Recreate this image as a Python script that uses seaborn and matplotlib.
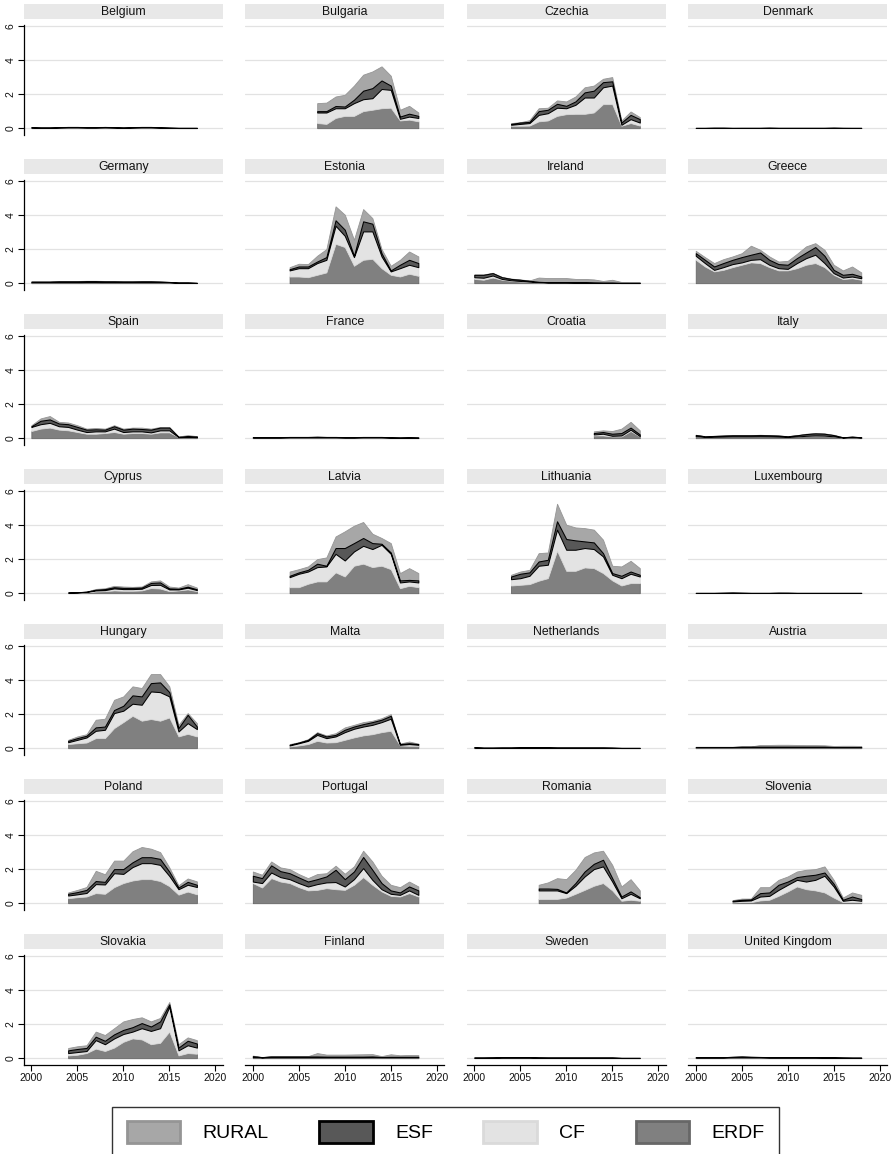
import numpy as np
import pandas as pd
import matplotlib
matplotlib.use("Agg")
import matplotlib.pyplot as plt
from matplotlib.patches import Patch, Rectangle
import seaborn as sns

# EU funds by country and year, four stacked layers
countries = ["Belgium", "Bulgaria", "Czechia", "Denmark",
             "Germany", "Estonia", "Ireland", "Greece",
             "Spain", "France", "Croatia", "Italy",
             "Cyprus", "Latvia", "Lithuania", "Luxembourg",
             "Hungary", "Malta", "Netherlands", "Austria",
             "Poland", "Portugal", "Romania", "Slovenia",
             "Slovakia", "Finland", "Sweden", "United Kingdom"]

start_year = {"Belgium": 2000, "Bulgaria": 2007, "Czechia": 2004, "Denmark": 2000,
              "Germany": 2000, "Estonia": 2004, "Ireland": 2000, "Greece": 2000,
              "Spain": 2000, "France": 2000, "Croatia": 2013, "Italy": 2000,
              "Cyprus": 2004, "Latvia": 2004, "Lithuania": 2004, "Luxembourg": 2000,
              "Hungary": 2004, "Malta": 2004, "Netherlands": 2000, "Austria": 2000,
              "Poland": 2004, "Portugal": 2000, "Romania": 2007, "Slovenia": 2004,
              "Slovakia": 2004, "Finland": 2000, "Sweden": 2000, "United Kingdom": 2000}

Z19 = [0, 0, 0, 0, 0, 0, 0, 0, 0, 0, 0, 0, 0, 0, 0, 0, 0, 0, 0]

erdf = {
    "Belgium": [0.03, 0.02, 0.02, 0.03, 0.04, 0.04, 0.03, 0.03, 0.04, 0.03, 0.02, 0.03, 0.04, 0.04, 0.03, 0.02, 0.01, 0.01, 0.01],
    "Bulgaria": [0.3, 0.25, 0.6, 0.72, 0.72, 1.0, 1.08, 1.17, 1.2, 0.45, 0.5, 0.4],
    "Czechia": [0.14, 0.14, 0.15, 0.4, 0.45, 0.72, 0.82, 0.84, 0.84, 0.92, 1.41, 1.41, 0.14, 0.3, 0.15],
    "Denmark": [0.01, 0.01, 0.01, 0.01, 0.01, 0.01, 0.01, 0.01, 0.01, 0.01, 0.01, 0.01, 0.01, 0.01, 0.01, 0.01, 0.01, 0.01, 0.01],
    "Germany": [0.05, 0.05, 0.05, 0.06, 0.06, 0.06, 0.07, 0.07, 0.06, 0.06, 0.05, 0.05, 0.06, 0.06, 0.05, 0.04, 0.02, 0.02, 0.01],
    "Estonia": [0.39, 0.39, 0.35, 0.49, 0.63, 2.31, 2.12, 1.02, 1.37, 1.43, 0.88, 0.49, 0.39, 0.55, 0.43],
    "Ireland": [0.25, 0.2, 0.33, 0.2, 0.14, 0.1, 0.07, 0.04, 0.03, 0.03, 0.03, 0.03, 0.03, 0.02, 0.02, 0.02, 0.01, 0.01, 0.01],
    "Greece": [1.37, 0.98, 0.69, 0.78, 0.94, 1.08, 1.22, 1.18, 0.94, 0.75, 0.75, 0.88, 1.08, 1.18, 0.94, 0.49, 0.24, 0.29, 0.2],
    "Spain": [0.42, 0.56, 0.62, 0.5, 0.46, 0.36, 0.26, 0.26, 0.3, 0.36, 0.26, 0.3, 0.3, 0.26, 0.34, 0.34, 0.06, 0.06, 0.06],
    "France": [0.03, 0.03, 0.03, 0.03, 0.04, 0.04, 0.04, 0.04, 0.04, 0.04, 0.03, 0.03, 0.04, 0.04, 0.04, 0.03, 0.02, 0.03, 0.02],
    "Croatia": [0.16, 0.16, 0.1, 0.1, 0.42, 0.1],
    "Italy": [0.12, 0.07, 0.08, 0.09, 0.1, 0.1, 0.1, 0.11, 0.1, 0.09, 0.07, 0.1, 0.14, 0.16, 0.15, 0.11, 0.03, 0.05, 0.03],
    "Cyprus": [0.02, 0.03, 0.05, 0.1, 0.12, 0.16, 0.14, 0.14, 0.16, 0.3, 0.27, 0.12, 0.16, 0.22, 0.12],
    "Latvia": [0.35, 0.35, 0.55, 0.69, 0.69, 1.22, 0.98, 1.61, 1.73, 1.53, 1.61, 1.41, 0.29, 0.43, 0.35],
    "Lithuania": [0.45, 0.49, 0.53, 0.73, 0.88, 2.49, 1.31, 1.31, 1.51, 1.47, 1.18, 0.75, 0.45, 0.59, 0.59],
    "Luxembourg": [0.01, 0.01, 0.01, 0.01, 0.01, 0.01, 0.01, 0.01, 0.01, 0.01, 0.01, 0.01, 0.01, 0.01, 0.01, 0.01, 0.01, 0.01, 0.01],
    "Hungary": [0.24, 0.29, 0.33, 0.59, 0.59, 1.18, 1.53, 1.9, 1.61, 1.71, 1.61, 1.8, 0.69, 0.84, 0.69],
    "Malta": [0.1, 0.16, 0.24, 0.43, 0.33, 0.35, 0.49, 0.63, 0.75, 0.82, 0.94, 1.02, 0.16, 0.14, 0.14],
    "Netherlands": [0.03, 0.02, 0.02, 0.02, 0.02, 0.03, 0.03, 0.03, 0.03, 0.02, 0.02, 0.02, 0.02, 0.02, 0.02, 0.02, 0.01, 0.01, 0.01],
    "Austria": [0.04, 0.04, 0.04, 0.04, 0.04, 0.05, 0.05, 0.05, 0.05, 0.05, 0.05, 0.05, 0.05, 0.05, 0.05, 0.04, 0.04, 0.04, 0.04],
    "Poland": [0.29, 0.35, 0.39, 0.59, 0.55, 0.94, 1.18, 1.33, 1.41, 1.41, 1.3, 1.0, 0.5, 0.68, 0.52],
    "Portugal": [1.18, 0.92, 1.47, 1.27, 1.18, 0.94, 0.75, 0.78, 0.88, 0.82, 0.78, 1.08, 1.53, 1.08, 0.69, 0.43, 0.39, 0.59, 0.39],
    "Romania": [0.24, 0.24, 0.25, 0.33, 0.55, 0.78, 1.02, 1.18, 0.75, 0.14, 0.2, 0.14],
    "Slovenia": [0.04, 0.06, 0.06, 0.16, 0.2, 0.43, 0.69, 0.98, 0.82, 0.75, 0.63, 0.33, 0.06, 0.08, 0.06],
    "Slovakia": [0.16, 0.2, 0.3, 0.56, 0.42, 0.62, 0.96, 1.16, 1.1, 0.82, 0.9, 1.56, 0.16, 0.3, 0.26],
    "Finland": [0.06, 0.03, 0.04, 0.04, 0.04, 0.04, 0.04, 0.04, 0.04, 0.04, 0.04, 0.04, 0.04, 0.05, 0.04, 0.04, 0.04, 0.04, 0.04],
    "Sweden": [0.02, 0.02, 0.02, 0.03, 0.03, 0.03, 0.03, 0.02, 0.02, 0.02, 0.02, 0.02, 0.02, 0.02, 0.02, 0.02, 0.01, 0.01, 0.01],
    "United Kingdom": [0.03, 0.03, 0.03, 0.03, 0.04, 0.05, 0.04, 0.04, 0.03, 0.03, 0.03, 0.03, 0.03, 0.03, 0.03, 0.03, 0.02, 0.02, 0.02],
}

cf = {
    "Belgium": Z19,
    "Bulgaria": [0.62, 0.67, 0.57, 0.45, 0.75, 0.7, 0.68, 1.13, 1.05, 0.1, 0.18, 0.2],
    "Czechia": [0.06, 0.11, 0.15, 0.38, 0.43, 0.48, 0.35, 0.53, 0.96, 0.88, 0.99, 1.09, 0.06, 0.23, 0.18],
    "Denmark": Z19,
    "Germany": Z19,
    "Estonia": [0.36, 0.49, 0.53, 0.69, 0.74, 1.06, 0.66, 0.51, 1.67, 1.61, 0.69, 0.2, 0.49, 0.53, 0.51],
    "Ireland": [0.1, 0.12, 0.12, 0.05, 0.03, 0.03, 0.02, 0.01, 0, 0, 0, 0, 0, 0, 0, 0, 0, 0, 0],
    "Greece": [0.24, 0.2, 0.09, 0.16, 0.18, 0.14, 0.15, 0.23, 0.14, 0.13, 0.09, 0.3, 0.39, 0.49, 0.24, 0.1, 0.09, 0.1, 0.09],
    "Spain": [0.24, 0.26, 0.28, 0.2, 0.2, 0.14, 0.1, 0.14, 0.1, 0.2, 0.1, 0.1, 0.1, 0.08, 0.12, 0.12, 0.0, 0.02, 0.0],
    "France": Z19,
    "Croatia": [0.06, 0.1, 0.04, 0.06, 0.08, 0.02],
    "Italy": Z19,
    "Cyprus": [0.01, 0.01, 0.02, 0.06, 0.06, 0.12, 0.1, 0.1, 0.1, 0.18, 0.22, 0.1, 0.06, 0.1, 0.06],
    "Latvia": [0.59, 0.79, 0.72, 0.84, 0.88, 1.09, 0.94, 0.84, 1.05, 1.06, 1.23, 0.9, 0.34, 0.26, 0.28],
    "Lithuania": [0.37, 0.39, 0.49, 0.88, 0.79, 1.24, 1.24, 1.24, 1.14, 1.12, 0.98, 0.33, 0.43, 0.55, 0.39],
    "Luxembourg": Z19,
    "Hungary": [0.11, 0.2, 0.3, 0.43, 0.49, 0.88, 0.67, 0.71, 0.94, 1.62, 1.68, 1.24, 0.29, 0.63, 0.43],
    "Malta": [0.06, 0.13, 0.19, 0.35, 0.26, 0.34, 0.45, 0.51, 0.52, 0.55, 0.59, 0.71, 0.04, 0.1, 0.06],
    "Netherlands": Z19,
    "Austria": Z19,
    "Poland": [0.16, 0.17, 0.21, 0.53, 0.55, 0.82, 0.54, 0.79, 0.94, 0.94, 0.95, 0.6, 0.32, 0.4, 0.43],
    "Portugal": [0.09, 0.26, 0.33, 0.26, 0.23, 0.24, 0.23, 0.34, 0.34, 0.42, 0.2, 0.33, 0.53, 0.29, 0.13, 0.12, 0.1, 0.16, 0.1],
    "Romania": [0.51, 0.51, 0.5, 0.26, 0.47, 0.79, 0.98, 0.98, 0.52, 0.15, 0.35, 0.15],
    "Slovenia": [0.06, 0.08, 0.1, 0.23, 0.23, 0.35, 0.39, 0.39, 0.45, 0.62, 0.98, 0.65, 0.08, 0.12, 0.08],
    "Slovakia": [0.14, 0.16, 0.12, 0.5, 0.4, 0.54, 0.46, 0.4, 0.66, 0.78, 0.86, 1.46, 0.3, 0.46, 0.36],
    "Finland": Z19,
    "Sweden": Z19,
    "United Kingdom": Z19,
}

esf = {
    "Belgium": [0.03, 0.02, 0.02, 0.03, 0.03, 0.03, 0.03, 0.03, 0.03, 0.03, 0.02, 0.03, 0.03, 0.03, 0.02, 0.01, 0.01, 0.01, 0.01],
    "Bulgaria": [0.08, 0.08, 0.13, 0.1, 0.2, 0.5, 0.59, 0.5, 0.25, 0.13, 0.17, 0.12],
    "Czechia": [0.05, 0.08, 0.07, 0.22, 0.2, 0.23, 0.14, 0.2, 0.3, 0.4, 0.3, 0.25, 0.13, 0.25, 0.2],
    "Denmark": [0.01, 0.01, 0.02, 0.02, 0.01, 0.01, 0.01, 0.01, 0.02, 0.01, 0.01, 0.01, 0.01, 0.01, 0.01, 0.02, 0.01, 0.01, 0.01],
    "Germany": [0.04, 0.04, 0.04, 0.05, 0.05, 0.05, 0.05, 0.05, 0.05, 0.05, 0.05, 0.05, 0.05, 0.05, 0.04, 0.03, 0.02, 0.02, 0.01],
    "Estonia": [0.07, 0.1, 0.1, 0.09, 0.16, 0.32, 0.36, 0.08, 0.59, 0.45, 0.19, 0.06, 0.2, 0.29, 0.24],
    "Ireland": [0.14, 0.17, 0.14, 0.1, 0.08, 0.07, 0.05, 0.03, 0.03, 0.03, 0.03, 0.02, 0.02, 0.02, 0.01, 0.01, 0.01, 0.01, 0.01],
    "Greece": [0.15, 0.19, 0.2, 0.24, 0.25, 0.31, 0.3, 0.39, 0.29, 0.24, 0.24, 0.29, 0.33, 0.45, 0.43, 0.19, 0.16, 0.16, 0.1],
    "Spain": [0.04, 0.2, 0.2, 0.16, 0.16, 0.16, 0.14, 0.12, 0.1, 0.14, 0.14, 0.16, 0.14, 0.16, 0.16, 0.16, 0.02, 0.04, 0.04],
    "France": [0.03, 0.03, 0.03, 0.03, 0.03, 0.03, 0.03, 0.04, 0.03, 0.03, 0.03, 0.03, 0.03, 0.03, 0.03, 0.02, 0.02, 0.02, 0.02],
    "Croatia": [0.08, 0.1, 0.12, 0.14, 0.12, 0.1],
    "Italy": [0.07, 0.04, 0.05, 0.06, 0.07, 0.07, 0.07, 0.07, 0.07, 0.06, 0.04, 0.07, 0.1, 0.12, 0.11, 0.07, 0.02, 0.04, 0.02],
    "Cyprus": [0.01, 0.01, 0.02, 0.04, 0.06, 0.07, 0.07, 0.07, 0.07, 0.12, 0.14, 0.06, 0.04, 0.06, 0.05],
    "Latvia": [0.08, 0.08, 0.1, 0.2, 0.04, 0.34, 0.73, 0.49, 0.46, 0.35, 0.06, 0.08, 0.12, 0.09, 0.12],
    "Lithuania": [0.16, 0.26, 0.2, 0.25, 0.29, 0.49, 0.63, 0.55, 0.39, 0.39, 0.19, 0.1, 0.14, 0.13, 0.1],
    "Luxembourg": [0.01, 0.01, 0.01, 0.02, 0.03, 0.02, 0.01, 0.01, 0.01, 0.02, 0.02, 0.01, 0.01, 0.01, 0.01, 0.01, 0.01, 0.01, 0.01],
    "Hungary": [0.08, 0.1, 0.1, 0.2, 0.19, 0.18, 0.29, 0.49, 0.49, 0.49, 0.57, 0.25, 0.2, 0.49, 0.15],
    "Malta": [0.04, 0.04, 0.06, 0.1, 0.1, 0.09, 0.14, 0.13, 0.14, 0.16, 0.14, 0.17, 0.04, 0.05, 0.04],
    "Netherlands": [0.03, 0.01, 0.01, 0.02, 0.02, 0.02, 0.02, 0.02, 0.02, 0.02, 0.02, 0.02, 0.02, 0.02, 0.02, 0.01, 0.01, 0.01, 0.01],
    "Austria": [0.03, 0.03, 0.03, 0.03, 0.03, 0.04, 0.04, 0.04, 0.04, 0.04, 0.04, 0.04, 0.04, 0.04, 0.04, 0.03, 0.03, 0.03, 0.03],
    "Poland": [0.1, 0.13, 0.18, 0.18, 0.15, 0.24, 0.28, 0.28, 0.35, 0.35, 0.35, 0.25, 0.1, 0.17, 0.13],
    "Portugal": [0.34, 0.29, 0.42, 0.35, 0.35, 0.33, 0.29, 0.29, 0.35, 0.72, 0.43, 0.45, 0.65, 0.59, 0.36, 0.2, 0.14, 0.23, 0.26],
    "Romania": [0.11, 0.11, 0.09, 0.04, 0.16, 0.29, 0.31, 0.39, 0.2, 0.1, 0.14, 0.06],
    "Slovenia": [0.04, 0.06, 0.06, 0.2, 0.2, 0.3, 0.19, 0.16, 0.34, 0.3, 0.19, 0.16, 0.06, 0.19, 0.1],
    "Slovakia": [0.16, 0.18, 0.18, 0.2, 0.2, 0.24, 0.24, 0.26, 0.3, 0.26, 0.4, 0.14, 0.16, 0.26, 0.24],
    "Finland": [0.06, 0.03, 0.06, 0.06, 0.06, 0.06, 0.06, 0.06, 0.05, 0.05, 0.05, 0.05, 0.05, 0.05, 0.03, 0.04, 0.04, 0.04, 0.04],
    "Sweden": [0.02, 0.02, 0.03, 0.03, 0.03, 0.03, 0.03, 0.03, 0.02, 0.02, 0.02, 0.02, 0.02, 0.02, 0.02, 0.02, 0.01, 0.01, 0.01],
    "United Kingdom": [0.03, 0.03, 0.03, 0.03, 0.04, 0.05, 0.04, 0.03, 0.03, 0.03, 0.03, 0.03, 0.03, 0.03, 0.02, 0.02, 0.02, 0.01, 0.01],
}

rural = {
    "Belgium": [0.01, 0.01, 0.01, 0.01, 0.01, 0.01, 0.01, 0.01, 0.01, 0.01, 0.01, 0.01, 0.01, 0.01, 0.01, 0.01, 0.01, 0.01, 0.01],
    "Bulgaria": [0.47, 0.5, 0.56, 0.69, 0.83, 0.94, 0.98, 0.83, 0.58, 0.4, 0.46, 0.2],
    "Czechia": [0.05, 0.02, 0.1, 0.17, 0.12, 0.2, 0.26, 0.29, 0.3, 0.3, 0.2, 0.25, 0.12, 0.2, 0.12],
    "Denmark": [0, 0, 0, 0, 0, 0.01, 0.01, 0.01, 0.01, 0.01, 0.01, 0.01, 0.01, 0.01, 0.01, 0.01, 0.01, 0, 0],
    "Germany": [0.01, 0.01, 0.01, 0.02, 0.02, 0.02, 0.02, 0.02, 0.02, 0.02, 0.02, 0.02, 0.02, 0.02, 0.02, 0.01, 0.01, 0.01, 0.01],
    "Estonia": [0.12, 0.16, 0.14, 0.34, 0.47, 0.82, 0.88, 0.94, 0.72, 0.33, 0.24, 0.27, 0.29, 0.49, 0.39],
    "Ireland": [0.02, 0.02, 0.02, 0.02, 0.02, 0.02, 0.02, 0.25, 0.24, 0.24, 0.24, 0.2, 0.2, 0.18, 0.1, 0.17, 0.05, 0.04, 0.04],
    "Greece": [0.14, 0.16, 0.2, 0.23, 0.2, 0.23, 0.53, 0.16, 0.2, 0.15, 0.23, 0.25, 0.36, 0.23, 0.35, 0.3, 0.26, 0.43, 0.24],
    "Spain": [0.06, 0.14, 0.2, 0.1, 0.1, 0.1, 0.06, 0.08, 0.06, 0.06, 0.06, 0.06, 0.08, 0.06, 0.04, 0.04, 0.02, 0.06, 0.02],
    "France": [0, 0, 0, 0.01, 0.01, 0.01, 0.01, 0.02, 0.01, 0.01, 0.01, 0.01, 0.01, 0.01, 0.01, 0.01, 0.01, 0.02, 0.01],
    "Croatia": [0.1, 0.1, 0.16, 0.26, 0.34, 0.24],
    "Italy": [0.01, 0.01, 0.01, 0.01, 0.01, 0.01, 0.01, 0.02, 0.01, 0.01, 0.01, 0.01, 0.02, 0.02, 0.02, 0.02, 0.01, 0.01, 0.01],
    "Cyprus": [0.0, 0.01, 0.01, 0.05, 0.05, 0.08, 0.08, 0.06, 0.06, 0.09, 0.12, 0.11, 0.07, 0.15, 0.1],
    "Latvia": [0.25, 0.19, 0.2, 0.27, 0.49, 0.68, 0.98, 1.02, 0.94, 0.55, 0.34, 0.55, 0.43, 0.69, 0.43],
    "Lithuania": [0.1, 0.13, 0.15, 0.49, 0.43, 1.03, 0.84, 0.76, 0.78, 0.75, 0.79, 0.43, 0.55, 0.63, 0.39],
    "Luxembourg": [0, 0, 0, 0, 0.01, 0, 0, 0, 0, 0.01, 0, 0, 0, 0, 0, 0, 0, 0, 0],
    "Hungary": [0.06, 0.1, 0.09, 0.45, 0.46, 0.6, 0.55, 0.53, 0.49, 0.53, 0.49, 0.34, 0.19, 0.1, 0.2],
    "Malta": [0.04, 0.02, 0.04, 0.06, 0.06, 0.1, 0.14, 0.1, 0.12, 0.08, 0.09, 0.1, 0.03, 0.1, 0.03],
    "Netherlands": [0.01, 0, 0, 0, 0, 0.01, 0.01, 0.01, 0.01, 0.01, 0.01, 0.01, 0.01, 0.01, 0.01, 0, 0, 0, 0],
    "Austria": [0.01, 0.01, 0.01, 0.01, 0.01, 0.01, 0.01, 0.1, 0.1, 0.11, 0.11, 0.1, 0.09, 0.09, 0.08, 0.06, 0.07, 0.07, 0.06],
    "Poland": [0.08, 0.13, 0.17, 0.6, 0.45, 0.5, 0.5, 0.65, 0.6, 0.5, 0.4, 0.25, 0.13, 0.2, 0.2],
    "Portugal": [0.25, 0.2, 0.23, 0.22, 0.24, 0.2, 0.2, 0.3, 0.19, 0.24, 0.32, 0.3, 0.37, 0.49, 0.43, 0.33, 0.31, 0.29, 0.23],
    "Romania": [0.22, 0.36, 0.63, 0.78, 0.78, 0.85, 0.67, 0.53, 0.78, 0.59, 0.72, 0.4],
    "Slovenia": [0.04, 0.07, 0.05, 0.35, 0.31, 0.29, 0.3, 0.33, 0.35, 0.33, 0.36, 0.23, 0.13, 0.24, 0.25],
    "Slovakia": [0.14, 0.16, 0.16, 0.3, 0.34, 0.36, 0.5, 0.48, 0.34, 0.3, 0.2, 0.14, 0.2, 0.2, 0.2],
    "Finland": [0.03, 0.01, 0.02, 0.02, 0.02, 0.02, 0.02, 0.2, 0.12, 0.12, 0.12, 0.13, 0.14, 0.14, 0.05, 0.15, 0.09, 0.11, 0.1],
    "Sweden": [0, 0, 0, 0, 0.01, 0.01, 0.01, 0.02, 0.01, 0.02, 0.02, 0.02, 0.02, 0.02, 0.01, 0.01, 0.01, 0.01, 0.01],
    "United Kingdom": [0, 0, 0, 0, 0.01, 0.01, 0.01, 0.01, 0.01, 0.01, 0.01, 0.01, 0.01, 0.01, 0.01, 0.01, 0.01, 0.01, 0.01],
}

rows = []
for c in countries:
    for i in range(len(erdf[c])):
        rows.append({"country": c, "year": start_year[c] + i,
                     "ERDF": erdf[c][i], "CF": cf[c][i],
                     "ESF": esf[c][i], "RURAL": rural[c][i]})
df = pd.DataFrame(rows)

sns.set_theme(style="white")
plt.rcParams["font.family"] = ["Liberation Sans", "DejaVu Sans"]
plt.rcParams["text.color"] = "black"
plt.rcParams["xtick.color"] = "black"
plt.rcParams["ytick.color"] = "black"

layers = ["ERDF", "CF", "ESF", "RURAL"]
fills = {"ERDF": "#808080", "CF": "#e3e3e3", "ESF": "#585858", "RURAL": "#a7a7a7"}
edges = {"ERDF": "#676767", "CF": "#dadada", "ESF": "#000000", "RURAL": "#959595"}
zord = {"ERDF": 2, "CF": 3, "RURAL": 4, "ESF": 5}
lws = {"ERDF": 0.6, "CF": 0.6, "ESF": 0.75, "RURAL": 0.6}


def stack_area(data, **kws):
    ax = plt.gca()
    d = data.sort_values("year")
    x = d["year"].to_numpy()
    base = np.zeros(len(d))
    for name in layers:
        top = base + d[name].to_numpy()
        ax.fill_between(x, base, top, facecolor=fills[name], edgecolor=edges[name],
                        linewidth=lws[name], zorder=zord[name])
        base = top


g = sns.FacetGrid(df, col="country", col_wrap=4, col_order=countries,
                  sharex=True, sharey=True, height=1.5, aspect=1.7, despine=False)
g.map_dataframe(stack_area)
g.set_titles("")
g.set_axis_labels("", "")

fig = g.figure
fig.set_size_inches(8.95, 11.54)
fig.subplots_adjust(left=24 / 895, right=887 / 895, top=1 - 20 / 1154,
                    bottom=1 - 1065 / 1154, wspace=0.115, hspace=0.348)

for i, ax in enumerate(g.axes.flat):
    r, c = divmod(i, 4)
    ax.set_xlim(1999.2, 2020.8)
    ax.set_ylim(-0.4, 6.35)
    ax.set_yticks([0, 2, 4, 6])
    ax.set_xticks([2000, 2005, 2010, 2015, 2020])
    for yv in [0, 2, 4, 6]:
        ax.axhline(yv, color="#e2e2e2", lw=0.9, zorder=1)
    for s in ["top", "right"]:
        ax.spines[s].set_visible(False)
    ax.spines["left"].set_visible(c == 0)
    ax.spines["bottom"].set_visible(r == 6)
    ax.spines["left"].set_color("black")
    ax.spines["bottom"].set_color("black")
    ax.spines["left"].set_linewidth(0.9)
    ax.spines["bottom"].set_linewidth(0.9)
    ax.spines["left"].set_bounds(-0.4, 6.05)
    ax.tick_params(axis="y", left=(c == 0), labelleft=(c == 0), length=4, width=0.8,
                   color="black", labelcolor="#111111", labelsize=7.5, labelrotation=90, pad=2)
    ax.tick_params(axis="x", bottom=(r == 6), labelbottom=(r == 6), length=4, width=0.8,
                   color="black", labelcolor="#111111", labelsize=7.5, pad=2)
    for lab in ax.get_yticklabels():
        lab.set_verticalalignment("center")
    ax.add_patch(Rectangle((0, 1.008), 1, 0.13, transform=ax.transAxes,
                           facecolor="#e8e8e8", edgecolor="none", clip_on=False))
    ax.text(0.5, 1.073, countries[i], transform=ax.transAxes, ha="center",
            va="center", fontsize=8.8, color="#111111")

handles = [Patch(facecolor=fills[n], edgecolor=edges[n], linewidth=2) for n in ["RURAL", "ESF", "CF", "ERDF"]]
leg = fig.legend(handles, ["RURAL", "ESF", "CF", "ERDF"], loc="upper center",
                 bbox_to_anchor=(0.498, 1 - 1097 / 1154), ncol=4, fontsize=14,
                 frameon=True, fancybox=False, edgecolor="black",
                 handlelength=2.75, handleheight=1.3, handletextpad=1.15,
                 columnspacing=2.6, borderpad=0.75)
leg.get_frame().set_linewidth(1.0)

fig.savefig("out.png", dpi=100)
